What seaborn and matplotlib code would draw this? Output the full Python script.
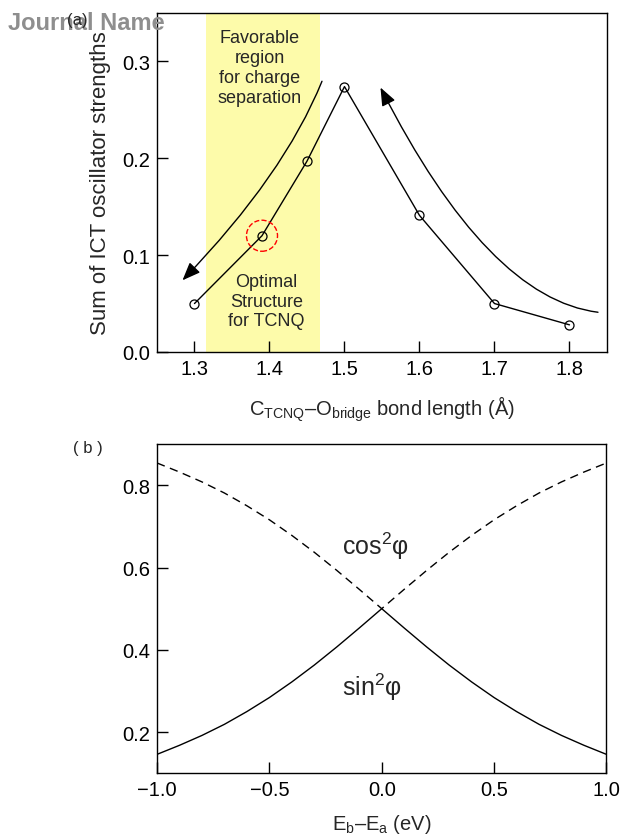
import matplotlib
matplotlib.use("Agg")
import matplotlib.pyplot as plt
import seaborn as sns

# (a) sum of ICT oscillator strengths against the C(TCNQ)-O(bridge) bond length
bond_length = [1.30, 1.39, 1.45, 1.50, 1.60, 1.70, 1.80]
ict_strength = [0.050, 0.120, 0.197, 0.274, 0.141, 0.050, 0.028]
optimal_length = 1.39
optimal_strength = 0.120
favorable_lo, favorable_hi = 1.315, 1.468
a_xticks = [1.3, 1.4, 1.5, 1.6, 1.7, 1.8]
a_xlabels = ["1.3", "1.4", "1.5", "1.6", "1.7", "1.8"]
a_yticks = [0.0, 0.1, 0.2, 0.3]
a_ylabels = ["0.0", "0.1", "0.2", "0.3"]

# (b) mixing coefficients against the energy gap Eb-Ea
energy_gap = [-1.0, -0.9, -0.8, -0.7, -0.6, -0.5, -0.4, -0.3, -0.2, -0.1, 0.0,
              0.1, 0.2, 0.3, 0.4, 0.5, 0.6, 0.7, 0.8, 0.9, 1.0]
sin2_phi = [0.146, 0.168, 0.192, 0.219, 0.250, 0.284, 0.322, 0.363, 0.407, 0.453, 0.500,
            0.453, 0.407, 0.363, 0.322, 0.284, 0.250, 0.219, 0.192, 0.168, 0.146]
cos2_phi = [0.854, 0.832, 0.808, 0.781, 0.750, 0.716, 0.678, 0.637, 0.593, 0.547, 0.500,
            0.547, 0.593, 0.637, 0.678, 0.716, 0.750, 0.781, 0.808, 0.832, 0.854]
b_xticks = [-1.0, -0.5, 0.0, 0.5, 1.0]
b_xlabels = ["\u22121.0", "\u22120.5", "0.0", "0.5", "1.0"]
b_yticks = [0.2, 0.4, 0.6, 0.8]
b_ylabels = ["0.2", "0.4", "0.6", "0.8"]

sns.set_theme(style="ticks")
plt.rcParams["font.family"] = ["Liberation Sans", "DejaVu Sans"]
plt.rcParams["mathtext.fontset"] = "custom"
plt.rcParams["mathtext.rm"] = "Liberation Sans"
plt.rcParams["mathtext.it"] = "Liberation Sans:italic"
plt.rcParams["axes.linewidth"] = 1.0
plt.rcParams["axes.edgecolor"] = "black"

fig = plt.figure(figsize=(6.2, 8.37), dpi=100)
ax1 = fig.add_axes([0.2532, 0.5783, 0.7258, 0.4050])
ax2 = fig.add_axes([0.2532, 0.0749, 0.7250, 0.3934])

# ---- panel (a)
ax1.axvspan(favorable_lo, favorable_hi, facecolor="#fdfbaa", edgecolor="none", zorder=0)
sns.lineplot(x=bond_length, y=ict_strength, ax=ax1, color="black", lw=1.0,
             marker="o", markersize=6.5, markerfacecolor="none",
             markeredgecolor="black", markeredgewidth=0.9, sort=False)
ax1.scatter([optimal_length], [optimal_strength], s=500, facecolors="none",
            edgecolors="red", linestyles="--", linewidths=1.0, zorder=3)

head = "-|>,head_length=0.55,head_width=0.22"
ax1.annotate("", xy=(1.284, 0.074), xytext=(1.470, 0.2795),
             arrowprops=dict(arrowstyle=head,
                             connectionstyle="angle3,angleA=68,angleB=46",
                             color="black", lw=1.0, shrinkA=0, shrinkB=0,
                             mutation_scale=20))
ax1.annotate("", xy=(1.548, 0.273), xytext=(1.838, 0.041),
             arrowprops=dict(arrowstyle=head,
                             connectionstyle="angle3,angleA=-7,angleB=117",
                             color="black", lw=1.0, shrinkA=0, shrinkB=0,
                             mutation_scale=20))

ax1.text(1.387, 0.2935, "Favorable\nregion\nfor charge\nseparation", ha="center",
         va="center", fontsize=13, linespacing=1.22)
ax1.text(1.396, 0.0525, "Optimal\nStructure\nfor TCNQ", ha="center",
         va="center", fontsize=13, linespacing=1.22)

ax1.set_xlim(1.25, 1.85)
ax1.set_ylim(0.0, 0.35)
ax1.set_xticks(a_xticks, a_xlabels)
ax1.set_yticks(a_yticks, a_ylabels)
ax1.set_xlabel(r"C$_{\mathrm{TCNQ}}$–O$_{\mathrm{bridge}}$ bond length (Å)",
               fontsize=14.5, labelpad=11)
ax1.set_ylabel("Sum of ICT oscillator strengths", fontsize=16, labelpad=8)

# ---- panel (b)
sns.lineplot(x=energy_gap, y=sin2_phi, ax=ax2, color="black", lw=1.0, sort=False)
sns.lineplot(x=energy_gap, y=cos2_phi, ax=ax2, color="black", lw=1.0, sort=False,
             linestyle=(0, (6, 4)))
ax2.text(-0.028, 0.654, r"cos$^{2}$φ", ha="center", va="center", fontsize=18)
ax2.text(-0.042, 0.311, r"sin$^{2}$φ", ha="center", va="center", fontsize=18)

ax2.set_xlim(-1.0, 1.0)
ax2.set_ylim(0.1, 0.9)
ax2.set_xticks(b_xticks, b_xlabels)
ax2.set_yticks(b_yticks, b_ylabels)
ax2.set_xlabel(r"E$_{\mathrm{b}}$–E$_{\mathrm{a}}$ (eV)", fontsize=14.5, labelpad=9)

for ax in (ax1, ax2):
    ax.tick_params(direction="in", length=8, width=1.0, labelsize=14.5, pad=5,
                   colors="black")
    for side in ("top", "right", "left", "bottom"):
        ax.spines[side].set_visible(True)
        ax.spines[side].set_color("black")

fig.text(8 / 620, 1 - 23 / 837, "Journal Name", ha="left", va="center",
         fontsize=17, fontweight="bold", color="#8e8e8e")
fig.text(77 / 620, 1 - 20 / 837, "(a)", ha="center", va="center", fontsize=12)
fig.text(87.5 / 620, 1 - 449 / 837, "( b )", ha="center", va="center", fontsize=12)

fig.savefig("out.png", dpi=100)
